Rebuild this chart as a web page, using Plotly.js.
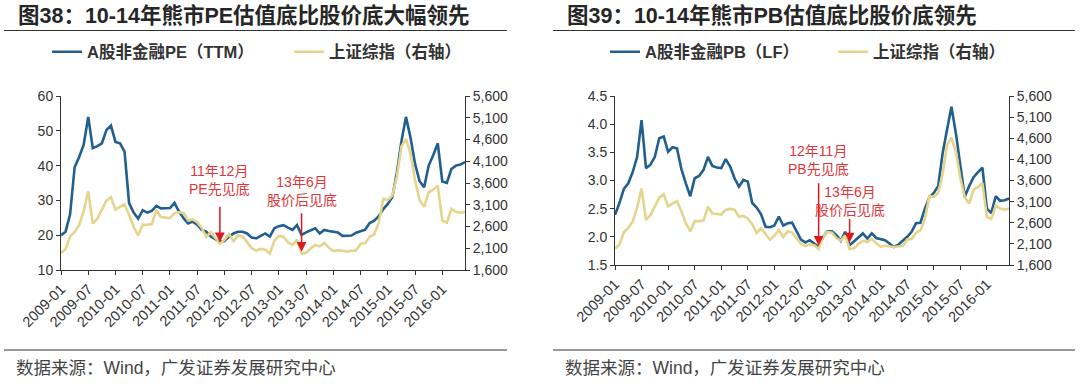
<!DOCTYPE html>
<html>
<head>
<meta charset="utf-8">
<script src="https://cdn.plot.ly/plotly-3.0.1.min.js"></script>
<style>html,body{margin:0;padding:0;background:#fff;}#chart{width:1080px;height:384px;}</style>
</head>
<body>
<div id="chart"></div>
<script>
const months = [
'2009-01','2009-02','2009-03','2009-04','2009-05','2009-06','2009-07','2009-08','2009-09','2009-10','2009-11','2009-12',
'2010-01','2010-02','2010-03','2010-04','2010-05','2010-06','2010-07','2010-08','2010-09','2010-10','2010-11','2010-12',
'2011-01','2011-02','2011-03','2011-04','2011-05','2011-06','2011-07','2011-08','2011-09','2011-10','2011-11','2011-12',
'2012-01','2012-02','2012-03','2012-04','2012-05','2012-06','2012-07','2012-08','2012-09','2012-10','2012-11','2012-12',
'2013-01','2013-02','2013-03','2013-04','2013-05','2013-06','2013-07','2013-08','2013-09','2013-10','2013-11','2013-12',
'2014-01','2014-02','2014-03','2014-04','2014-05','2014-06','2014-07','2014-08','2014-09','2014-10','2014-11','2014-12',
'2015-01','2015-02','2015-03','2015-04','2015-05','2015-06','2015-07','2015-08','2015-09','2015-10','2015-11','2015-12',
'2016-01','2016-02','2016-03','2016-04','2016-05','2016-06'];

// A股非金融PE（TTM） - left axis of chart 38
const peNonFin = [
20.0,21.0,26.0,39.5,42.5,46.0,54.0,45.0,45.6,46.4,50.2,51.5,
46.8,46.4,44.0,29.2,26.5,24.8,27.2,26.5,27.0,28.4,27.7,27.7,
27.8,29.3,26.8,24.9,23.4,23.9,23.0,21.5,21.0,19.6,18.8,18.1,
18.3,19.6,20.5,21.0,21.0,20.5,19.3,19.1,19.8,20.5,19.6,22.0,
22.6,22.9,22.2,21.5,22.9,20.1,20.8,21.5,22.0,20.5,21.5,21.2,
21.0,20.8,19.8,19.8,19.9,20.7,21.2,21.6,23.5,24.2,25.5,27.5,
29.0,31.0,38.0,47.0,54.0,48.0,40.5,35.5,33.8,40.0,43.0,46.4,
35.4,35.0,39.0,40.0,40.3,41.0];

// A股非金融PB（LF） - left axis of chart 39
const pbNonFin = [
2.39,2.60,2.85,2.95,3.15,3.42,4.07,3.22,3.28,3.42,3.75,3.78,
3.51,3.59,3.57,3.20,2.95,2.72,3.04,3.08,3.19,3.42,3.26,3.23,
3.22,3.38,3.25,3.04,2.89,3.01,2.98,2.60,2.52,2.40,2.18,2.17,
2.20,2.36,2.20,2.24,2.25,2.09,1.95,1.90,1.94,1.88,1.82,2.00,
2.10,2.10,2.03,1.93,2.09,1.85,1.92,1.98,2.06,1.97,2.06,1.98,
1.96,1.94,1.88,1.82,1.86,1.93,2.00,2.09,2.24,2.25,2.50,2.70,
2.78,2.90,3.48,3.90,4.31,3.84,3.30,2.71,2.90,3.06,3.15,3.23,
2.50,2.42,2.72,2.64,2.65,2.68];

// 上证综指（右轴）
const shComposite = [
1991,2082,2373,2477,2633,2959,3412,2667,2779,2996,3195,3277,
2989,3051,3110,2871,2593,2398,2638,2639,2656,2979,2820,2808,
2791,2905,2928,2911,2743,2762,2701,2568,2359,2469,2333,2199,
2293,2429,2263,2397,2373,2225,2103,2048,2086,2069,1980,2269,
2385,2366,2237,2178,2301,1979,1994,2098,2175,2142,2221,2116,
2033,2056,2033,2026,2039,2048,2202,2217,2364,2420,2683,3235,
3210,3310,3748,4442,4612,4277,3664,3206,3053,3383,3446,3539,
2738,2688,3004,2938,2917,2930];

const tickLabels = ['2009-01','2009-07','2010-01','2010-07','2011-01','2011-07','2012-01','2012-07',
'2013-01','2013-07','2014-01','2014-07','2015-01','2015-07','2016-01'];

const BLUE = '#215f8e';
const GOLD = '#e4d48c';
const RED = '#e0353a';
const FONT = 'Liberation Sans, Arial, "Noto Sans CJK SC", sans-serif';
const W = 1080, H = 384;
const px = v => v / W;
const py = v => 1 - v / H;

const traces = [
  {x: months, y: peNonFin, type: 'scatter', mode: 'lines', name: '<b>A股非金融PE（TTM）</b>',
   line: {color: BLUE, width: 2.6}, xaxis: 'x', yaxis: 'y', legend: 'legend'},
  {x: months, y: shComposite, type: 'scatter', mode: 'lines', name: '<b>上证综指（右轴）</b>',
   line: {color: GOLD, width: 2.6}, xaxis: 'x', yaxis: 'y2', legend: 'legend2'},
  {x: months, y: pbNonFin, type: 'scatter', mode: 'lines', name: '<b>A股非金融PB（LF）</b>',
   line: {color: BLUE, width: 2.6}, xaxis: 'x2', yaxis: 'y3', legend: 'legend3'},
  {x: months, y: shComposite, type: 'scatter', mode: 'lines', name: '<b>上证综指（右轴）</b>',
   line: {color: GOLD, width: 2.6}, xaxis: 'x2', yaxis: 'y4', legend: 'legend4'}
];

const tickFont = {family: FONT, size: 14, color: '#333'};
const axisCommon = {showgrid: false, zeroline: false, showline: true, linecolor: '#333', linewidth: 1,
  ticks: 'outside', ticklen: 4, tickwidth: 1, tickcolor: '#333', tickfont: tickFont, fixedrange: true};

const xCommon = Object.assign({}, axisCommon, {type: 'category', range: [0, 89],
  tickmode: 'array', tickvals: tickLabels, ticktext: tickLabels, tickangle: -45,
  tickfont: {family: FONT, size: 14.5, color: '#333'}});

const legendCommon = {orientation: 'h', bgcolor: 'rgba(0,0,0,0)', borderwidth: 0,
  font: {family: FONT, size: 16.5, color: '#333'}, xanchor: 'left', yanchor: 'middle', itemwidth: 30};

const annoFont = {family: FONT, size: 14, color: RED};

const layout = {
  width: W, height: H, margin: {l: 0, r: 0, t: 0, b: 0},
  paper_bgcolor: '#fff', plot_bgcolor: '#fff', showlegend: true,
  xaxis: Object.assign({}, xCommon, {domain: [px(61), px(465)], anchor: 'y'}),
  yaxis: Object.assign({}, axisCommon, {domain: [py(270), py(96)], range: [10, 60], dtick: 10, anchor: 'x'}),
  yaxis2: Object.assign({}, axisCommon, {overlaying: 'y', side: 'right', anchor: 'x', range: [1600, 5600], tick0: 1600, dtick: 500, tickformat: ','}),
  xaxis2: Object.assign({}, xCommon, {domain: [px(615), px(1009)], anchor: 'y3'}),
  yaxis3: Object.assign({}, axisCommon, {domain: [py(265), py(96)], range: [1.5, 4.5], dtick: 0.5, tickformat: '.1f', anchor: 'x2'}),
  yaxis4: Object.assign({}, axisCommon, {overlaying: 'y3', side: 'right', anchor: 'x2', range: [1600, 5600], tick0: 1600, dtick: 500, tickformat: ','}),
  legend: Object.assign({}, legendCommon, {x: px(47), y: py(52)}),
  legend2: Object.assign({}, legendCommon, {x: px(289), y: py(52)}),
  legend3: Object.assign({}, legendCommon, {x: px(605), y: py(52)}),
  legend4: Object.assign({}, legendCommon, {x: px(833), y: py(52)}),
  shapes: [
    {type: 'line', xref: 'paper', yref: 'paper', x0: px(4), x1: px(507), y0: py(30.5), y1: py(30.5), line: {color: '#333', width: 1}},
    {type: 'line', xref: 'paper', yref: 'paper', x0: px(553), x1: px(1075), y0: py(30.5), y1: py(30.5), line: {color: '#333', width: 1}},
    {type: 'line', xref: 'paper', yref: 'paper', x0: px(4), x1: px(507), y0: py(350), y1: py(350), line: {color: '#333', width: 1}},
    {type: 'line', xref: 'paper', yref: 'paper', x0: px(553), x1: px(1075), y0: py(350), y1: py(350), line: {color: '#333', width: 1}}
  ],
  annotations: [
    {xref: 'paper', yref: 'paper', x: px(16), y: py(16), xanchor: 'left', yanchor: 'middle', showarrow: false,
     text: '<b>图38：10-14年熊市PE估值底比股价底大幅领先</b>', font: {family: FONT, size: 21.5, color: '#262626'}},
    {xref: 'paper', yref: 'paper', x: px(565), y: py(16), xanchor: 'left', yanchor: 'middle', showarrow: false,
     text: '<b>图39：10-14年熊市PB估值底比股价底领先</b>', font: {family: FONT, size: 21.5, color: '#262626'}},
    {xref: 'paper', yref: 'paper', x: px(14), y: py(368), xanchor: 'left', yanchor: 'middle', showarrow: false,
     text: '数据来源：Wind，广发证券发展研究中心', font: {family: FONT, size: 17.5, color: '#444'}},
    {xref: 'paper', yref: 'paper', x: px(563), y: py(368), xanchor: 'left', yanchor: 'middle', showarrow: false,
     text: '数据来源：Wind，广发证券发展研究中心', font: {family: FONT, size: 17.5, color: '#444'}},
    // chart 38 callouts
    {xref: 'x', yref: 'paper', x: months.indexOf('2011-12'), y: py(180), showarrow: false, yanchor: 'middle',
     text: '11年12月<br>PE先见底', font: annoFont},
    {xref: 'x', yref: 'y', x: months.indexOf('2011-12'), y: 18.0, ax: 0, ay: -37, text: '', showarrow: true,
     arrowhead: 2, arrowsize: 1.3, arrowwidth: 1.5, arrowcolor: '#e0191f'},
    {xref: 'x', yref: 'paper', x: months.indexOf('2013-06'), y: py(191), showarrow: false, yanchor: 'middle',
     text: '13年6月<br>股价后见底', font: annoFont},
    {xref: 'x', yref: 'y2', x: months.indexOf('2013-06'), y: 2020, ax: 0, ay: -40, text: '', showarrow: true,
     arrowhead: 2, arrowsize: 1.3, arrowwidth: 1.5, arrowcolor: '#e0191f'},
    // chart 39 callouts
    {xref: 'x2', yref: 'paper', x: months.indexOf('2012-11'), y: py(160), showarrow: false, yanchor: 'middle',
     text: '12年11月<br>PB先见底', font: annoFont},
    {xref: 'x2', yref: 'y3', x: months.indexOf('2012-11'), y: 1.84, ax: 0, ay: -64, text: '', showarrow: true,
     arrowhead: 2, arrowsize: 1.3, arrowwidth: 1.5, arrowcolor: '#e0191f'},
    {xref: 'x2', yref: 'paper', x: months.indexOf('2013-06'), y: py(200.5), showarrow: false, yanchor: 'middle',
     text: '13年6月<br>股价后见底', font: annoFont},
    {xref: 'x2', yref: 'y4', x: months.indexOf('2013-06'), y: 2130, ax: 0, ay: -25, text: '', showarrow: true,
     arrowhead: 2, arrowsize: 1.3, arrowwidth: 1.5, arrowcolor: '#e0191f'}
  ]
};

Plotly.newPlot('chart', traces, layout, {displayModeBar: false, staticPlot: true});
</script>
</body>
</html>
